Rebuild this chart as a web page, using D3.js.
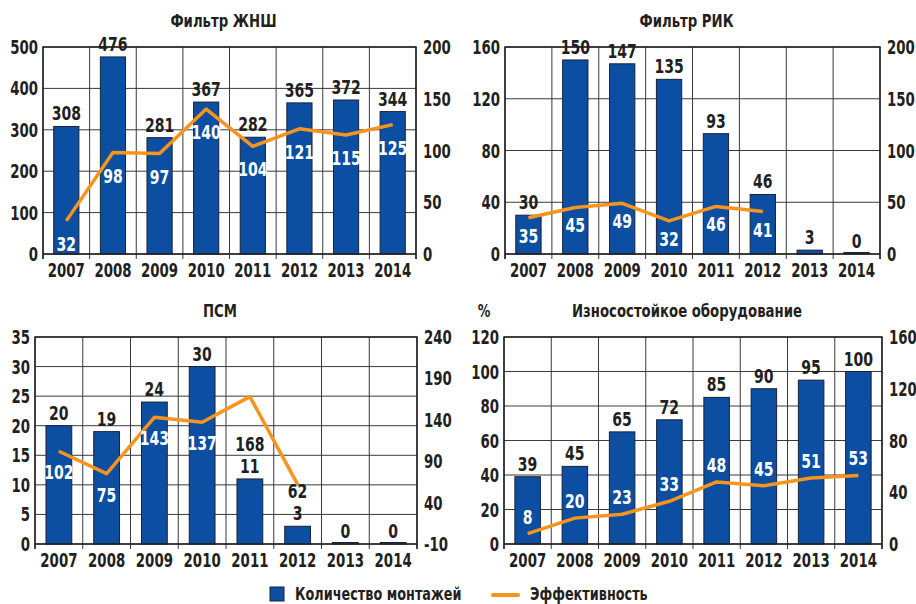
<!DOCTYPE html>
<meta charset="utf-8" />
<style>
  body {
    margin: 0px;
    padding: 0px;
    background: #fff;
  }
  svg text {
    font-family: "Liberation Sans Narrow", "DejaVu Sans Condensed", sans-serif;
    font-weight: bold;
  }
</style>

<svg width="916" height="604"></svg>

<script src="https://cdnjs.cloudflare.com/ajax/libs/d3/7.8.5/d3.min.js"></script>
<script>
  const years = ["2007", "2008", "2009", "2010", "2011", "2012", "2013", "2014"];

  // Фильтр ЖНШ
  const zhnshCount = [308, 476, 281, 367, 282, 365, 372, 344];
  const zhnshEff = [32, 98, 97, 140, 104, 121, 115, 125];
  const zhnshLeftTicks = [0, 100, 200, 300, 400, 500];
  const zhnshRightTicks = [0, 50, 100, 150, 200];

  // Фильтр РИК
  const rikCount = [30, 150, 147, 135, 93, 46, 3, 0];
  const rikEff = [35, 45, 49, 32, 46, 41, null, null];
  const rikLeftTicks = [0, 40, 80, 120, 160];
  const rikRightTicks = [0, 50, 100, 150, 200];

  // ПСМ
  const psmCount = [20, 19, 24, 30, 11, 3, 0, 0];
  const psmEff = [102, 75, 143, 137, 168, 62, null, null];
  const psmLeftTicks = [0, 5, 10, 15, 20, 25, 30, 35];
  const psmRightTicks = [-10, 40, 90, 140, 190, 240];

  // Износостойкое оборудование
  const iznosCount = [39, 45, 65, 72, 85, 90, 95, 100];
  const iznosEff = [8, 20, 23, 33, 48, 45, 51, 53];
  const iznosLeftTicks = [0, 20, 40, 60, 80, 100, 120];
  const iznosRightTicks = [0, 40, 80, 120, 160];

  const barColor = "#0b4ea2";
  const lineColor = "#f7941d";
  const gridColor = "#3a3a3a";
  const ink = "#231f20";
  const SQ = 0.78; // fake a condensed face

  const svg = d3.select("svg");

  // write text as translate+scaleX so the wide fallback font looks condensed
  function label(sel, x, y, txt, opts) {
    opts = opts || {};
    return sel
      .append("text")
      .attr("transform", `translate(${x},${y}) scale(${opts.k || SQ},1)`)
      .attr("text-anchor", opts.anchor || "middle")
      .attr("font-size", opts.size || 19)
      .attr("fill", opts.fill || ink)
      .text(txt);
  }

  const panels = [
    { title: "Фильтр ЖНШ", counts: zhnshCount, eff: zhnshEff, lt: zhnshLeftTicks, rt: zhnshRightTicks, x0: 43, x1: 416, y0: 47, y1: 254, effDy: 30 },
    { title: "Фильтр РИК", counts: rikCount, eff: rikEff, lt: rikLeftTicks, rt: rikRightTicks, x0: 505, x1: 880, y0: 47, y1: 254, effDy: 25 },
    { title: "ПСМ", counts: psmCount, eff: psmEff, lt: psmLeftTicks, rt: psmRightTicks, x0: 35, x1: 417, y0: 337, y1: 544, effDy: 28 },
    { title: "Износостойкое оборудование", counts: iznosCount, eff: iznosEff, lt: iznosLeftTicks, rt: iznosRightTicks, x0: 504, x1: 882, y0: 337, y1: 544, effDy: -10, unit: "%" },
  ];

  panels.forEach(drawPanel);

  function drawPanel(p) {
    const g = svg.append("g");

    const x = d3.scaleBand().domain(years).range([p.x0, p.x1]).paddingInner(0.46).paddingOuter(0.23);
    const step = x.step();
    const yL = d3.scaleLinear().domain(d3.extent(p.lt)).range([p.y1, p.y0]);
    const yR = d3.scaleLinear().domain(d3.extent(p.rt)).range([p.y1, p.y0]);
    const cx = (i) => x(years[i]) + x.bandwidth() / 2;

    // horizontal grid
    g.append("g")
      .selectAll("line")
      .data(p.lt)
      .enter()
      .append("line")
      .attr("x1", p.x0)
      .attr("x2", p.x1)
      .attr("y1", (d) => yL(d))
      .attr("y2", (d) => yL(d))
      .attr("stroke", gridColor)
      .attr("stroke-width", 1);

    // vertical grid + ticks below the axis
    const bounds = d3.range(years.length + 1).map((i) => p.x0 + i * step);
    g.append("g")
      .selectAll("line")
      .data(bounds)
      .enter()
      .append("line")
      .attr("x1", (d) => d)
      .attr("x2", (d) => d)
      .attr("y1", p.y0)
      .attr("y2", p.y1 + 5)
      .attr("stroke", gridColor)
      .attr("stroke-width", 1);

    // axis labels
    p.lt.forEach((d) => label(g, p.x0 - 5, yL(d) + 7, d, { anchor: "end" }));
    p.rt.forEach((d) => label(g, p.x1 + 7, yR(d) + 7, d, { anchor: "start" }));
    years.forEach((d, i) => label(g, cx(i), p.y1 + 23, d));

    // title
    label(g, (p.x0 + p.x1) / 2 - 6, p.y0 - 20, p.title, { size: 18, k: 0.82 });
    if (p.unit) label(g, p.x0 - 20, p.y0 - 20, p.unit, { size: 18 });

    // bars
    g.append("g")
      .selectAll("rect")
      .data(p.counts)
      .enter()
      .append("rect")
      .attr("x", (d, i) => x(years[i]))
      .attr("width", x.bandwidth())
      .attr("y", (d) => Math.min(yL(d), p.y1 - 1.5))
      .attr("height", (d) => Math.max(p.y1 - yL(d), 1.5))
      .attr("fill", barColor)
      .attr("stroke", "#1b2236")
      .attr("stroke-width", 1);

    // frame: top, left, right, bottom
    g.append("path")
      .attr("d", `M${p.x0},${p.y1 + 5}V${p.y0}H${p.x1}V${p.y1 + 5}M${p.x0},${p.y1}H${p.x1}`)
      .attr("fill", "none")
      .attr("stroke", ink)
      .attr("stroke-width", 1.5);

    // efficiency line
    const line = d3
      .line()
      .defined((d) => d != null)
      .x((d, i) => cx(i))
      .y((d) => yR(d));

    g.append("path")
      .datum(p.eff)
      .attr("d", line)
      .attr("fill", "none")
      .attr("stroke", lineColor)
      .attr("stroke-width", 3.5)
      .attr("stroke-linejoin", "round");

    // count labels above bars
    p.counts.forEach((d, i) => label(g, cx(i), yL(d) - 6, d, { size: 20 }));

    // efficiency labels: white inside bar, black stacked above count label otherwise
    p.eff.forEach((e, i) => {
      if (e == null) return;
      const top = yL(p.counts[i]);
      let yy = yR(e) + p.effDy;
      const inside = yy - 14 > top;
      if (!inside) yy = top - 6 - 22;
      label(g, cx(i), yy, e, { size: 20, fill: inside ? "#fff" : ink });
    });
  }

  // legend
  const legend = svg.append("g");
  legend
    .append("rect")
    .attr("x", 270)
    .attr("y", 587)
    .attr("width", 14)
    .attr("height", 14)
    .attr("fill", barColor)
    .attr("stroke", "#1b2236");
  label(legend, 295, 600, "Количество монтажей", { anchor: "start", size: 17, k: 0.84 });
  legend
    .append("line")
    .attr("x1", 493)
    .attr("x2", 518)
    .attr("y1", 595)
    .attr("y2", 595)
    .attr("stroke", lineColor)
    .attr("stroke-width", 4)
    .attr("stroke-linecap", "round");
  label(legend, 530, 600, "Эффективность", { anchor: "start", size: 17, k: 0.84 });
</script>
